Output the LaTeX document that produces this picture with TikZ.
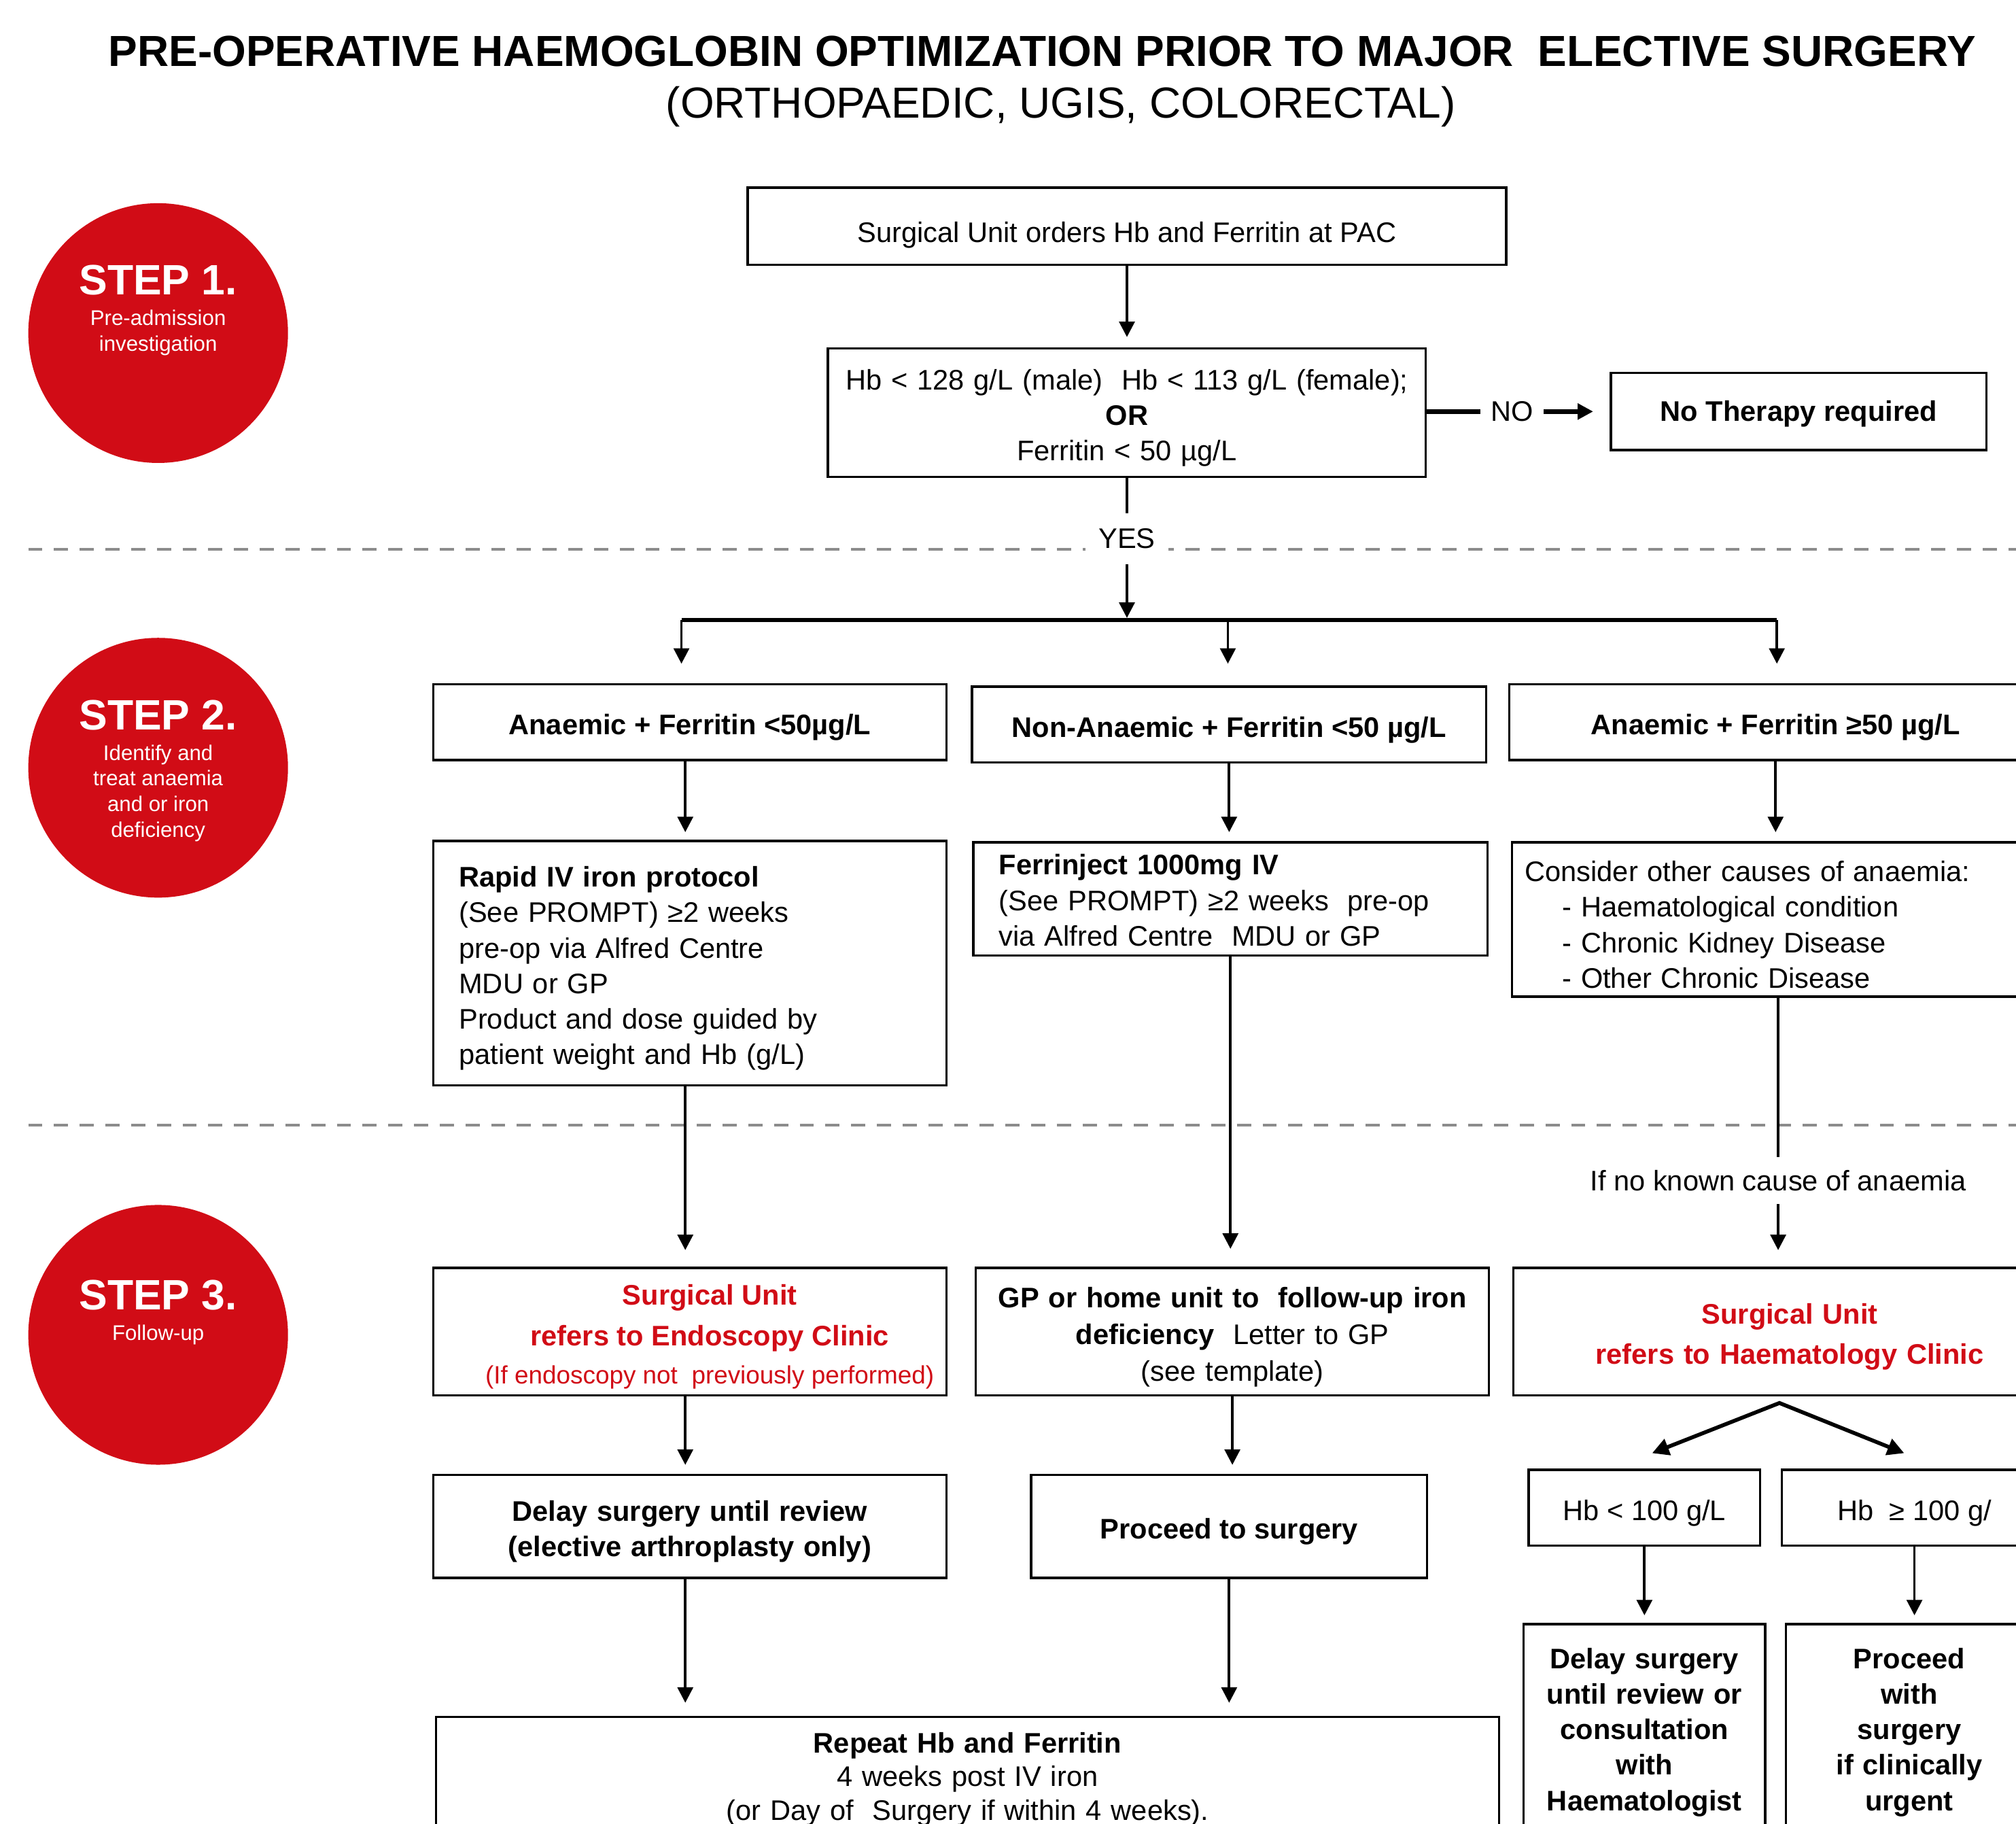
\documentclass[tikz,border=0pt]{standalone}
\usepackage{fontspec}
\setmainfont{Liberation Sans}
\usepackage{tikz}
\usetikzlibrary{positioning, arrows.meta}
\usepackage{xcolor}
\definecolor{stepred}{RGB}{209,12,22}
\definecolor{sepgrey}{RGB}{140,140,140}

\begin{document}
\begin{tikzpicture}[x=1pt, y=-1pt,
    stepdisc/.style={circle, fill=stepred, minimum size=202pt, inner sep=0pt},
    steptitle/.style={text=white, inner sep=0pt, font=\fontsize{33}{38}\selectfont\bfseries},
    stepsub/.style={text=white, inner sep=0pt, align=center, font=\fontsize{16.5}{20}\selectfont},
    box/.style={draw, line width=1.8pt, inner sep=0pt, align=center, font=\fontsize{22}{27.6}\selectfont,
      execute at begin node={\rule{0pt}{#1}}},
    box/.default=24pt,
    boldbox/.style={box=#1, font=\fontsize{22}{27.6}\selectfont\bfseries},
    boldbox/.default=24pt,
    leftbox/.style={box=#1, align=left, inner xsep=20pt},
    leftbox/.default=24pt,
    boxtext/.style={inner sep=0pt, align=center, font=\fontsize{22}{27.6}\selectfont},
    lbl/.style={inner sep=4pt, font=\fontsize{22}{27.6}\selectfont},
    flow/.style={line width=2pt, -{Triangle[length=12pt,width=12pt]}, shorten >=8pt},
    divider/.style={sepgrey, line width=2pt, dash pattern=on 11pt off 9pt}]
  \useasboundingbox (0,0) rectangle (1568,1418);

  \draw[divider] (22,427) -- (1568,427);
  \draw[divider] (22,875) -- (1568,875);

  \node[font=\fontsize{33.8}{40}\selectfont\bfseries] (title) at (810.5,40) {PRE-OPERATIVE HAEMOGLOBIN OPTIMIZATION PRIOR TO MAJOR\ \ ELECTIVE SURGERY};
  \node[font=\fontsize{33.8}{40}\selectfont] (subtitle) at (825,83) {(ORTHOPAEDIC, UGIS, COLORECTAL)};

  \node[stepdisc] (s1) at (123,259) {};
  \node[steptitle] (s1t) at (123,218) {STEP 1.};
  \node[stepsub, below=11pt of s1t] (s1s) {Pre-admission\\investigation};
  \node[stepdisc] (s2) at (123,597) {};
  \node[steptitle] (s2t) at (123,556) {STEP 2.};
  \node[stepsub, below=11pt of s2t] (s2s) {Identify and\\treat anaemia\\and or iron\\deficiency};
  \node[stepdisc] (s3) at (123,1038) {};
  \node[steptitle] (s3t) at (123,1007) {STEP 3.};
  \node[stepsub, below=11pt of s3t] (s3s) {Follow-up};

  \node[box=30pt, minimum width=590pt, minimum height=60pt] (order) at (876.5,176) {Surgical Unit orders Hb and Ferritin at PAC};
  \node[box, text width=445pt, minimum width=465pt, minimum height=100pt] (screen) at (876.5,321) {Hb < 128 g/L (male)\ \ Hb < 113 g/L (female);\\\textbf{OR}\\Ferritin < 50 µg/L};
  \node[lbl, inner xsep=8pt] (no) at (1176,320) {NO};
  \node[boldbox=20pt, minimum width=292pt, minimum height=60pt] (nothx) at (1399,320) {No Therapy required};
  \node[lbl, fill=white, inner xsep=10pt, inner ysep=12pt] (yes) at (876.5,419) {YES};

  \coordinate (bartop) at (876.5,482);
  \coordinate (barL) at (530,482);
  \coordinate (barM) at (955,482);
  \coordinate (barR) at (1382,482);
  \coordinate (colL) at (533,0);

  \node[boldbox, minimum width=399pt, minimum height=59pt] (anfe) at (536.5,561.5) {Anaemic + Ferritin <50µg/L};
  \node[boldbox, minimum width=400pt, minimum height=59pt] (nonan) at (956,563.5) {Non-Anaemic + Ferritin <50 µg/L};
  \node[boldbox, minimum width=414pt, minimum height=59pt] (anhi) at (1381,561.5) {Anaemic + Ferritin ≥50 µg/L};

  \node[leftbox, text width=359pt, minimum height=190pt] (rapid) at (536.5,749) {\textbf{Rapid IV iron protocol}\\(See PROMPT) ≥2 weeks\\pre-op via Alfred Centre\\MDU or GP\\Product and dose guided by\\patient weight and Hb (g/L)};
  \node[leftbox=18pt, text width=360pt, minimum height=88pt] (ferinj) at (957,699) {\textbf{Ferrinject 1000mg IV}\\(See PROMPT) ≥2 weeks\ \ pre-op\\via Alfred Centre\ \ MDU or GP};
  \node[leftbox, inner xsep=10pt, text width=396pt, minimum height=120pt] (causes) at (1384,715) {Consider other causes of anaemia:\\\hspace*{29pt}- Haematological condition\\\hspace*{29pt}- Chronic Kidney Disease\\\hspace*{29pt}- Other Chronic Disease};
  \node[lbl, inner ysep=10pt] (noknown) at (1383,918) {If no known cause of anaemia};

  \node[box, minimum width=399pt, minimum height=99pt] (endo) at (536.5,1035.5) {};
  \node[boxtext, text=stepred] (endotxt) at (552,1039.5) {\textbf{Surgical Unit}\\[4pt]\textbf{refers to Endoscopy Clinic}\\[2pt]{\fontsize{19.5}{24}\selectfont (If endoscopy not\ \ previously performed)}};
  \node[box, text width=385pt, minimum width=399pt, minimum height=99pt] (gpfu) at (958.5,1035.5) {\textbf{GP or home unit to\ \ follow-up iron}\\[1pt]\textbf{deficiency}\ \ Letter to GP\\[1pt](see template)};
  \node[boldbox, text=stepred, text width=410pt, minimum width=430pt, minimum height=99pt] (haem) at (1392,1035.5) {Surgical Unit\\[4pt]refers to Haematology Clinic};

  \node[boldbox, text width=385pt, minimum width=399pt, minimum height=80pt] (delay) at (536.5,1187) {Delay surgery until review\\(elective arthroplasty only)};
  \node[boldbox, minimum width=308pt, minimum height=80pt] (proc) at (956,1187) {Proceed to surgery};
  \node[box, minimum width=180pt, minimum height=59pt] (hblo) at (1279,1172.5) {Hb < 100 g/L};
  \node[box, minimum width=206pt, minimum height=59pt] (hbhi) at (1489,1172.5) {Hb\ \ ≥ 100 g/};

  \node[boldbox=20pt, text width=180pt, minimum width=188pt, minimum height=164pt] (delayh) at (1279,1345) {Delay surgery\\until review or\\consultation\\with\\Haematologist};
  \node[boldbox=20pt, text width=184pt, minimum width=192pt, minimum height=164pt] (prochi) at (1485,1345) {Proceed\\with\\surgery\\if clinically\\urgent};
  \node[box=18pt, text width=800pt, minimum width=827pt, minimum height=95pt] (repeat) at (752.5,1382.5) {\textbf{Repeat Hb and Ferritin}\\[-1.6pt]4 weeks post IV iron\\[-1.6pt](or Day of\ \ Surgery if within 4 weeks).};

  \coordinate (fork) at (1384,1091);
  \coordinate (forkL) at (1285,1130);
  \coordinate (forkR) at (1481,1130);

  \draw[flow] (order) -- (screen);
  \draw[line width=4pt] (screen.east |- no) -- (no);
  \draw[flow, line width=4pt, shorten >=13pt] (no) -- (nothx);
  \draw[line width=2pt] (screen) -- (yes);
  \draw[flow, shorten >=1.5pt] (yes) -- (bartop);
  \draw[line width=3pt] (barL) -- (barR);
  \draw[flow, shorten >=15pt] (barL) -- (barL |- anfe.north);
  \draw[flow, shorten >=17pt] (barM) -- (barM |- nonan.north);
  \draw[flow, shorten >=15pt] (barR) -- (barR |- anhi.north);
  \draw[flow, shorten >=6pt] (anfe.south -| colL) -- (colL |- rapid.north);
  \draw[flow, shorten >=7pt] (nonan.south) -- (nonan.south |- ferinj.north);
  \draw[flow, shorten >=7pt] (anhi.south) -- (anhi.south |- causes.north);
  \draw[flow, shorten >=13pt] (rapid.south -| colL) -- (colL |- endo.north);
  \draw[flow, shorten >=14pt] (ferinj.south) -- (ferinj.south |- gpfu.north);
  \draw[line width=2pt] (causes.south -| noknown) -- (noknown);
  \draw[flow, shorten >=13pt] (noknown.south) -- (noknown.south |- haem.north);
  \draw[flow, shorten >=7pt] (endo.south -| colL) -- (colL |- delay.north);
  \draw[flow, shorten >=7pt] (gpfu.south) -- (gpfu.south |- proc.north);
  \draw[line width=3pt, line join=miter, {Triangle[length=13pt,width=13pt]}-{Triangle[length=13pt,width=13pt]}] (forkL) -- (fork) -- (forkR);
  \draw[flow, shorten >=6pt] (hblo.south) -- (hblo.south |- delayh.north);
  \draw[flow, shorten >=6pt] (hbhi.south) -- (hbhi.south |- prochi.north);
  \draw[flow, shorten >=10pt] (delay.south -| colL) -- (colL |- repeat.north);
  \draw[flow, shorten >=10pt] (proc.south) -- (proc.south |- repeat.north);
\end{tikzpicture}
\end{document}
